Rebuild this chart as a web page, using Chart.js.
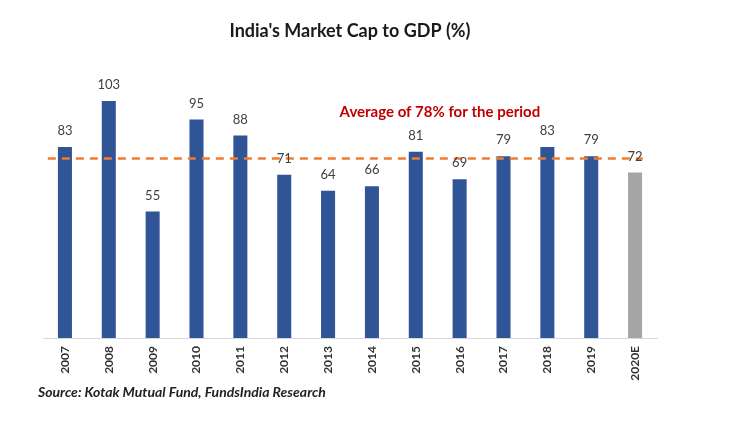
<!DOCTYPE html>
<html>
<head>
<meta charset="utf-8">
<script src="https://cdn.jsdelivr.net/npm/chart.js@4/dist/chart.umd.min.js"></script>
<style>
html,body{margin:0;padding:0;background:#fff;}
#wrap{width:740px;height:421px;}
</style>
</head>
<body>
<div id="wrap"><canvas id="c" width="740" height="421"></canvas></div>
<script>
const years = ['2007','2008','2009','2010','2011','2012','2013','2014','2015','2016','2017','2018','2019','2020E'];
const marketCapToGDP = [83,103,55,95,88,71,64,66,81,69,79,83,79,72];
const averageValue = 78;
const averageLabel = 'Average of 78% for the period';
const titleText = "India's Market Cap to GDP (%)";
const sourceText = 'Source: Kotak Mutual Fund, FundsIndia Research';

const barColors = years.map(y => y.endsWith('E') ? '#A5A5A5' : '#2F5597');
const FONT = 'Lato, "Open Sans", sans-serif';

const overlay = {
  id: 'overlay',
  afterDatasetsDraw(chart) {
    const ctx = chart.ctx;
    const xs = chart.scales.x, ys = chart.scales.y;
    const meta = chart.getDatasetMeta(0);
    // average dashed line
    const yAvg = ys.getPixelForValue(averageValue);
    const firstX = xs.getPixelForValue(0), lastX = xs.getPixelForValue(years.length - 1);
    const half = (xs.getPixelForValue(1) - firstX) / 2;
    ctx.save();
    ctx.strokeStyle = '#ED7D31';
    ctx.lineWidth = 2.5;
    ctx.setLineDash([8, 6]);
    ctx.beginPath();
    ctx.moveTo(firstX - half * 0.78, yAvg);
    ctx.lineTo(lastX + half * 0.35, yAvg);
    ctx.stroke();
    ctx.restore();
    // value labels
    ctx.save();
    ctx.font = '13px ' + FONT;
    ctx.fillStyle = '#404040';
    ctx.textAlign = 'center';
    ctx.textBaseline = 'middle';
    meta.data.forEach((bar, i) => {
      ctx.fillText(String(marketCapToGDP[i]), bar.x, bar.y - 16);
    });
    ctx.restore();
    // average annotation
    ctx.save();
    ctx.font = 'bold 15px ' + FONT;
    ctx.fillStyle = '#C00000';
    ctx.textAlign = 'center';
    ctx.textBaseline = 'middle';
    ctx.fillText(averageLabel, xs.getPixelForValue(8.55), ys.getPixelForValue(98));
    ctx.restore();
  },
  afterDraw(chart) {
    const ctx = chart.ctx;
    const ca = chart.chartArea;
    ctx.save();
    ctx.font = 'bold 18px ' + FONT;
    ctx.fillStyle = '#1a1a1a';
    ctx.textAlign = 'center';
    ctx.textBaseline = 'middle';
    ctx.fillText(titleText, (ca.left + ca.right) / 2, 31);
    ctx.font = 'italic bold 14px ' + FONT;
    ctx.fillStyle = '#222';
    ctx.textAlign = 'left';
    ctx.fillText(sourceText, 38, 392);
    ctx.restore();
  }
};

new Chart(document.getElementById('c'), {
  type: 'bar',
  data: {
    labels: years,
    datasets: [{
      data: marketCapToGDP,
      backgroundColor: barColors,
      borderWidth: 0,
      barPercentage: 0.32,
      categoryPercentage: 1.0
    }]
  },
  options: {
    responsive: false,
    animation: false,
    devicePixelRatio: 1,
    layout: { padding: { left: 43, right: 83, top: 62, bottom: 0 } },
    plugins: { legend: { display: false }, title: { display: false }, tooltip: { enabled: false } },
    scales: {
      x: {
        grid: { display: false, drawTicks: false },
        border: { display: true, color: '#D9D9D9', width: 1 },
        ticks: {
          minRotation: 90, maxRotation: 90, padding: 8,
          color: '#333333',
          font: { family: FONT, size: 12, weight: 'bold' }
        },
        afterFit(s) { s.height = 83; }
      },
      y: {
        display: false,
        min: 0, max: 120
      }
    }
  },
  plugins: [overlay]
});
</script>
</body>
</html>
